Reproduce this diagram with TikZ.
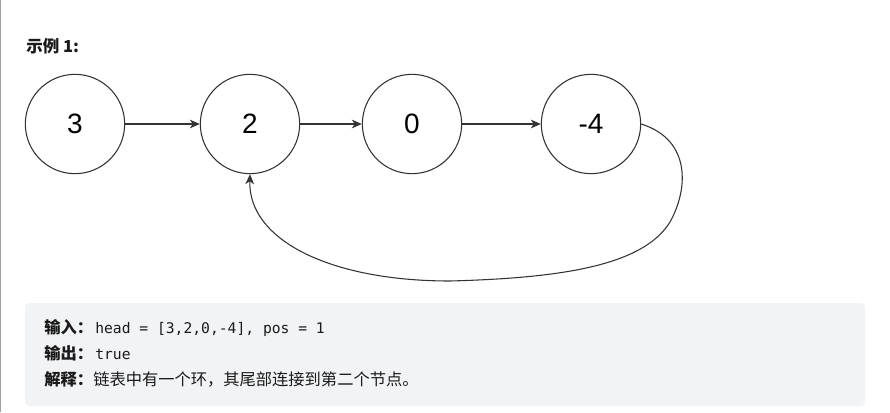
\documentclass[tikz,border=0pt]{standalone}
\usepackage{fontspec}
\setmainfont{Liberation Sans}
\newfontfamily\cjk{Noto Sans CJK SC}
\newfontfamily\monof{DejaVu Sans Mono}
\usetikzlibrary{arrows.meta}
\definecolor{ln}{HTML}{333333}
\definecolor{boxbg}{HTML}{F2F3F5}
\definecolor{edge}{HTML}{A0A0A0}
\definecolor{txt}{HTML}{1A1A1A}
\tikzset{
  lnode/.style={circle,draw=ln,line width=0.8pt,minimum size=74.5pt,inner sep=0pt,font=\fontsize{21}{24}\selectfont,text=black},
  link/.style={draw=ln,line width=0.8pt,-{Stealth[length=7.5pt,width=6.5pt,inset=2.2pt]}},
  lbl/.style={anchor=base west,inner sep=0pt,text=txt},
  keyf/.style={font=\cjk\bfseries\fontsize{12.2}{14}\selectfont},
  monot/.style={font=\monof\fontsize{11}{13}\selectfont},
}
\begin{document}
\begin{tikzpicture}[x=0.75pt,y=-0.75pt]
\useasboundingbox (0,0) rectangle (890,412);
\fill[white] (0,0) rectangle (890,412);
\draw[edge,line width=1pt] (0.6,0) -- (0.6,412);
\node[lbl,font=\cjk\bfseries\fontsize{12.4}{14}\selectfont] (title) at (26,52) {示例 1:};
\node[lnode] (n1) at (75,124) {3};
\node[lnode] (n2) at (250,124) {2};
\node[lnode] (n3) at (412,124) {0};
\node[lnode] (n4) at (591,124) {-4};
\draw[link] (n1) -- (n2);
\draw[link] (n2) -- (n3);
\draw[link] (n3) -- (n4);
\draw[link] (n4.east) .. controls (692,140) and (688,190) .. (670,222)
  .. controls (643,266) and (560,278) .. (450,281)
  .. controls (330,281) and (248,240) .. (n2.south);
\fill[boxbg,rounded corners=3pt] (25,303) rectangle (865,406);
\node[lbl,keyf] (k1) at (44,333) {输入：};
\node[lbl,monot] (v1) at (95,333) {head = [3,2,0,-4], pos = 1};
\node[lbl,keyf] (k2) at (44,359) {输出：};
\node[lbl,monot] (v2) at (95,359) {true};
\node[lbl,keyf] (k3) at (44,385) {解释：};
\node[lbl,font=\cjk\fontsize{12.2}{14}\selectfont] (v3) at (93,385) {链表中有一个环，其尾部连接到第二个节点。};
\end{tikzpicture}
\end{document}
